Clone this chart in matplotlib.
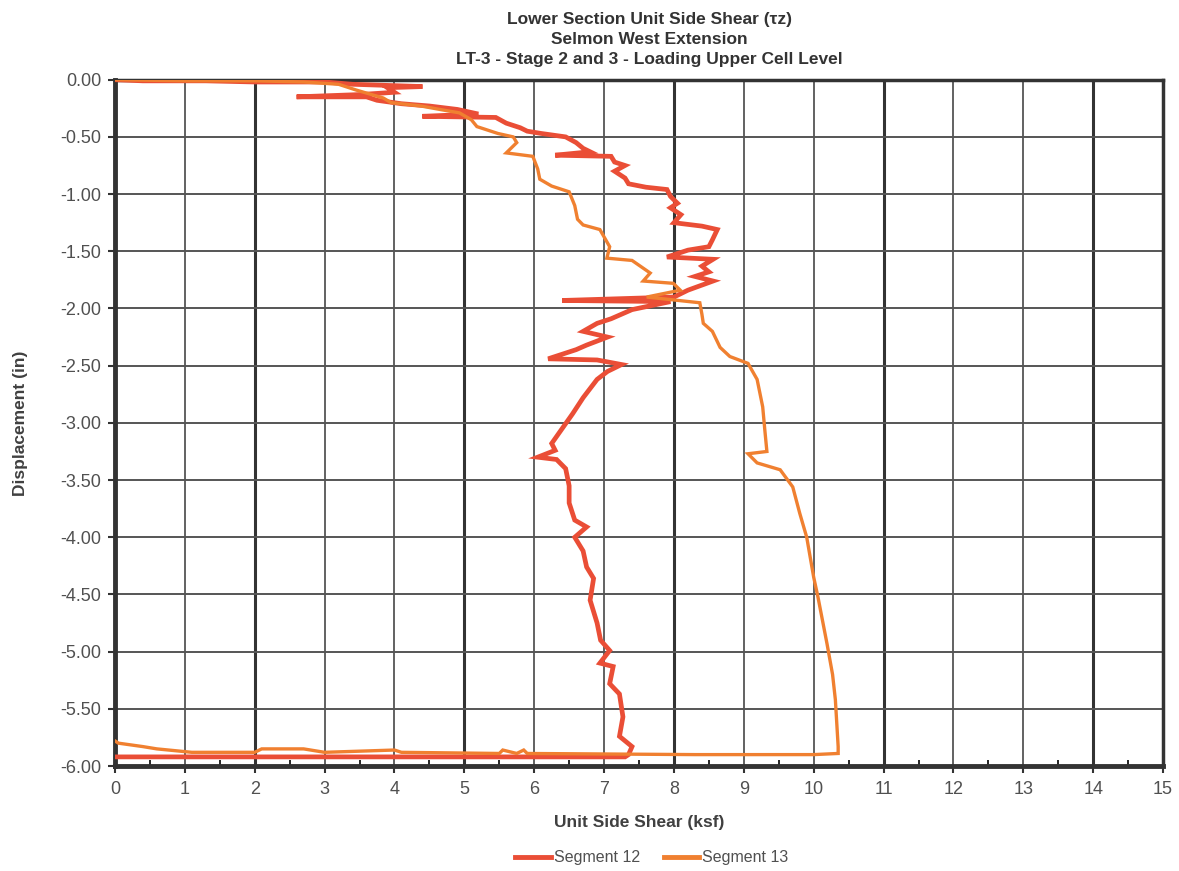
import matplotlib
matplotlib.use("Agg")
import matplotlib.pyplot as plt
from matplotlib.ticker import MultipleLocator

plt.rcParams["font.family"] = ["Liberation Sans", "DejaVu Sans"]

# Segment 12 trace (unit side shear, displacement)
seg12_x = [0.00, 0.40, 1.30, 2.00, 3.00, 3.40, 4.40, 3.90, 4.00, 3.50, 2.60, 3.60, 3.75, 4.10,
           4.50, 4.90, 5.20, 4.40, 5.45, 5.60, 5.80, 5.90, 6.10, 6.45, 6.60, 6.70, 6.80, 6.30,
           7.10, 7.15, 7.30, 7.15, 7.30, 7.35, 7.60, 7.90, 7.95, 8.05, 7.95, 8.10, 8.00, 8.40,
           8.62, 8.55, 8.50, 8.20, 7.90, 8.56, 8.40, 8.50, 8.30, 8.56, 8.20, 8.00, 6.40, 7.95,
           7.40, 7.10, 6.90, 6.70, 7.05, 6.75, 6.60, 6.20, 6.90, 7.25, 7.05, 6.90, 6.70, 6.55,
           6.40, 6.25, 6.30, 6.05, 6.32, 6.45, 6.50, 6.50, 6.58, 6.75, 6.58, 6.70, 6.75, 6.85,
           6.80, 6.90, 6.95, 7.08, 6.94, 7.13, 7.08, 7.22, 7.27, 7.22, 7.40, 7.35, 7.30, 0.00]
seg12_y = [0.00, -0.01, -0.01, -0.02, -0.02, -0.04, -0.06, -0.07, -0.11, -0.13, -0.15, -0.15,
           -0.18, -0.21, -0.23, -0.26, -0.30, -0.32, -0.33, -0.38, -0.42, -0.45, -0.47, -0.50,
           -0.55, -0.60, -0.63, -0.66, -0.67, -0.72, -0.75, -0.80, -0.86, -0.91, -0.94, -0.96,
           -1.02, -1.08, -1.12, -1.18, -1.25, -1.28, -1.31, -1.40, -1.46, -1.49, -1.55, -1.57,
           -1.63, -1.68, -1.72, -1.76, -1.84, -1.90, -1.93, -1.94, -2.01, -2.09, -2.13, -2.20,
           -2.25, -2.32, -2.36, -2.44, -2.45, -2.49, -2.55, -2.62, -2.78, -2.92, -3.05, -3.18,
           -3.24, -3.30, -3.32, -3.40, -3.55, -3.70, -3.85, -3.91, -4.00, -4.12, -4.26, -4.36,
           -4.55, -4.75, -4.90, -4.99, -5.10, -5.13, -5.28, -5.37, -5.57, -5.74, -5.83, -5.90,
           -5.92, -5.92]

# Segment 13 trace
seg13_x = [0.00, 1.00, 2.00, 2.70, 3.20, 3.45, 3.84, 3.95, 4.38, 4.65, 4.93, 5.10, 5.18, 5.48,
           5.70, 5.75, 5.60, 5.98, 6.05, 6.08, 6.25, 6.50, 6.58, 6.62, 6.70, 6.94, 7.08, 7.04,
           7.40, 7.66, 7.56, 7.99, 8.09, 7.61, 8.37, 8.40, 8.42, 8.55, 8.66, 8.80, 9.06, 9.19,
           9.27, 9.30, 9.33, 9.06, 9.19, 9.52, 9.70, 9.80, 9.90, 10.00, 10.06, 10.19, 10.27,
           10.31, 10.35, 10.35, 10.00, 8.30, 5.90, 5.85, 5.75, 5.55, 5.50, 4.10, 4.00, 3.00,
           2.70, 2.10, 2.00, 1.10, 0.60, 0.40, 0.05, 0.00]
seg13_y = [0.00, -0.01, -0.01, -0.02, -0.04, -0.09, -0.16, -0.20, -0.23, -0.26, -0.29, -0.35,
           -0.41, -0.47, -0.50, -0.55, -0.64, -0.67, -0.78, -0.87, -0.93, -0.98, -1.10, -1.22,
           -1.27, -1.31, -1.46, -1.56, -1.58, -1.69, -1.76, -1.78, -1.84, -1.90, -1.95, -2.05,
           -2.13, -2.20, -2.34, -2.42, -2.48, -2.62, -2.86, -3.06, -3.25, -3.27, -3.35, -3.41,
           -3.56, -3.79, -4.00, -4.35, -4.52, -4.93, -5.20, -5.42, -5.83, -5.89, -5.90, -5.90,
           -5.89, -5.86, -5.89, -5.86, -5.89, -5.88, -5.86, -5.88, -5.85, -5.85, -5.88, -5.88,
           -5.85, -5.83, -5.80, -5.78]

x_ticks = list(range(0, 16))
y_ticks = [0.0, -0.5, -1.0, -1.5, -2.0, -2.5, -3.0, -3.5, -4.0, -4.5, -5.0, -5.5, -6.0]
heavy_x = [2, 5, 8, 11, 14]

fig = plt.figure(figsize=(11.79, 8.71), dpi=100)
ax = fig.add_axes([0.0975, 0.1205, 0.889, 0.788])

# grid
for x in x_ticks:
    lw = 2.2 if x in heavy_x else 1.3
    col = "#333333" if x in heavy_x else "#555555"
    ax.axvline(x, color=col, lw=lw, zorder=1)
for y in y_ticks:
    ax.axhline(y, color="#555555", lw=1.4, zorder=1)

ax.plot(seg12_x, seg12_y, color="#EA4E36", lw=3.4, label="Segment 12", zorder=3,
        solid_joinstyle="miter")
ax.plot(seg13_x, seg13_y, color="#F08030", lw=2.4, label="Segment 13", zorder=4,
        solid_joinstyle="miter")

ax.set_xlim(0, 15)
ax.set_ylim(-6, 0)
ax.set_xticks(x_ticks)
ax.set_yticks(y_ticks)
ax.set_yticklabels([f"{v:.2f}" if v != 0 else "0.00" for v in y_ticks])
ax.xaxis.set_minor_locator(MultipleLocator(0.5))
ax.tick_params(axis="both", labelsize=13, labelcolor="#505050", color="#333333")
ax.tick_params(axis="x", which="major", direction="out", length=5, width=1.5, pad=6)
ax.tick_params(axis="x", which="minor", direction="in", length=4, width=1.2)
ax.tick_params(axis="y", which="major", direction="out", length=5, width=1.5, pad=5)

for side in ["left", "bottom"]:
    ax.spines[side].set_linewidth(3.5)
    ax.spines[side].set_color("#333333")
for side in ["top", "right"]:
    ax.spines[side].set_linewidth(2.5)
    ax.spines[side].set_color("#333333")

ax.set_xlabel("Unit Side Shear (ksf)", fontsize=12.5, fontweight="bold", color="#404040",
              labelpad=12)
ax.set_ylabel("Displacement (in)", fontsize=12.5, fontweight="bold", color="#404040")
ax.yaxis.set_label_coords(-0.083, 0.5)

fig.text(0.551, 0.978, "Lower Section Unit Side Shear (\u03c4z)", ha="center", va="center",
         fontsize=12.5, fontweight="bold", color="#333333")
fig.text(0.551, 0.955, "Selmon West Extension", ha="center", va="center",
         fontsize=12.5, fontweight="bold", color="#333333")
fig.text(0.551, 0.932, "LT-3 - Stage 2 and 3 - Loading Upper Cell Level", ha="center",
         va="center", fontsize=12.5, fontweight="bold", color="#333333")

leg = fig.legend(loc="center", bbox_to_anchor=(0.553, 0.015), ncol=2, frameon=False,
                 fontsize=11.5, handlelength=2.2, columnspacing=1.5, handletextpad=0.2)
for t in leg.get_texts():
    t.set_color("#505050")
for h in leg.get_lines():
    h.set_linewidth(3.5)

fig.savefig("out.png", dpi=100)
